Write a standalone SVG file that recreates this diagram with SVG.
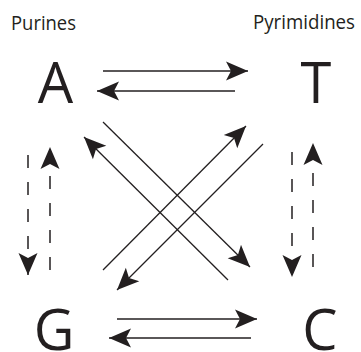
<svg xmlns="http://www.w3.org/2000/svg" width="361" height="352" viewBox="0 0 361 352">
  <style>
    .lbl { font-family: "Open Sans", "Noto Sans", sans-serif; fill: #231f20; }
    .small { font-size: 20px; }
    .big { font-size: 56px; text-anchor: middle; }
    .ln { stroke: #231f20; stroke-width: 1.3; fill: none; marker-end: url(#ah); }
    .dash { stroke: #231f20; stroke-width: 1.5; fill: none; stroke-dasharray: 13 14; marker-end: url(#ah); }
  </style>
  <defs>
    <marker id="ah" markerUnits="userSpaceOnUse" viewBox="0 -10 24 20" refX="22" refY="0" markerWidth="24" markerHeight="20" orient="auto">
      <path d="M0,-9.5 L22,0 L0,9.5 L5,0 Z" fill="#231f20"/>
    </marker>
  </defs>
  <g id="label-purines"><text class="lbl small" x="11" y="30" textLength="65" lengthAdjust="spacingAndGlyphs">Purines</text></g>
  <g id="label-pyrimidines"><text class="lbl small" x="253" y="29" textLength="102" lengthAdjust="spacingAndGlyphs">Pyrimidines</text></g>
  <g id="node-A"><text class="lbl big" x="55.5" y="103">A</text></g>
  <g id="node-T"><text class="lbl big" x="316" y="103">T</text></g>
  <g id="node-G"><text class="lbl big" x="54" y="350">G</text></g>
  <g id="node-C"><text class="lbl big" x="320" y="350">C</text></g>
  <g id="connectors">
    <line class="ln" x1="103" y1="71" x2="248" y2="71"/>
    <line class="ln" x1="235" y1="91" x2="97" y2="91"/>
    <line class="ln" x1="117" y1="319" x2="257" y2="319"/>
    <line class="ln" x1="251" y1="338" x2="109" y2="338"/>
    <line class="ln" x1="103" y1="122" x2="250" y2="267"/>
    <line class="ln" x1="228" y1="280" x2="84" y2="137"/>
    <line class="ln" x1="103" y1="270" x2="246" y2="126"/>
    <line class="ln" x1="263" y1="144" x2="117" y2="290"/>
    <line class="dash" x1="28" y1="155" x2="28" y2="275"/>
    <line class="dash" x1="50" y1="270" x2="50" y2="147"/>
    <line class="dash" x1="292" y1="152" x2="292" y2="277"/>
    <line class="dash" x1="313" y1="267" x2="313" y2="143"/>
  </g>
</svg>
